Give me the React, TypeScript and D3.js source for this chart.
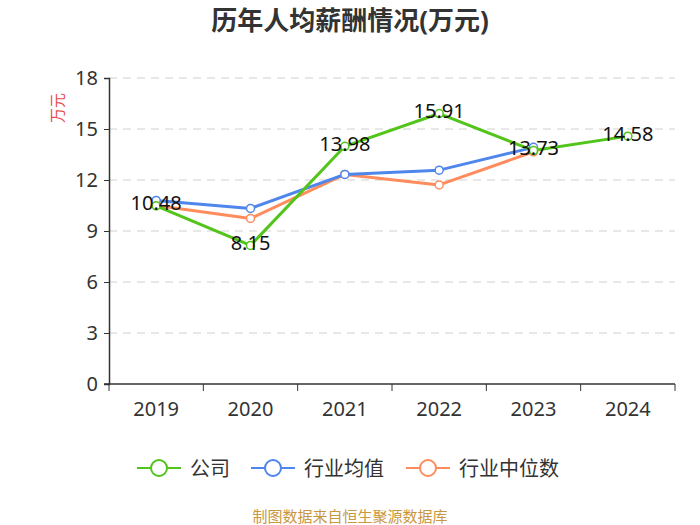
import React, { useRef, useEffect } from "react"
import * as d3 from "d3"

const years = ["2019", "2020", "2021", "2022", "2023", "2024"]
const companyValues = [10.48, 8.15, 13.98, 15.91, 13.73, 14.58]
const industryMean: (number | null)[] = [10.8, 10.33, 12.33, 12.58, 13.92, null]
const industryMedian: (number | null)[] = [10.5, 9.74, 12.33, 11.71, 13.66, null]
const yTicks = [0, 3, 6, 9, 12, 15, 18]
const seriesNames = ["公司", "行业均值", "行业中位数"]
const seriesColors = ["#52c41a", "#4f86ec", "#ff8c5c"]

const FONT = '"Noto Sans", "Noto Sans CJK SC", sans-serif'

export default function App() {
    const svgRef = useRef<SVGSVGElement>(null)

    useEffect(() => {
        if (!svgRef.current) return
        const width = 700
        const height = 525
        const margin = { top: 78, right: 25, bottom: 141, left: 109 }
        const innerWidth = width - margin.left - margin.right
        const innerHeight = height - margin.top - margin.bottom

        const svg = d3.select(svgRef.current)
        svg.selectAll("*").remove()
        svg.attr("width", width).attr("height", height).style("font-family", FONT)

        svg.append("rect").attr("width", width).attr("height", height).attr("fill", "#fff")

        // Title
        svg.append("text")
            .attr("x", width / 2)
            .attr("y", 20)
            .attr("text-anchor", "middle")
            .attr("dominant-baseline", "central")
            .attr("font-size", 26)
            .attr("font-weight", "bold")
            .attr("fill", "#333")
            .text("历年人均薪酬情况(万元)")

        const g = svg.append("g").attr("transform", `translate(${margin.left},${margin.top})`)

        const x = d3.scaleBand().domain(years).range([0, innerWidth])
        const y = d3.scaleLinear().domain([0, 18]).range([innerHeight, 0])

        // Grid lines
        g.append("g")
            .selectAll("line")
            .data(yTicks.filter(t => t > 0))
            .join("line")
            .attr("x1", 0)
            .attr("x2", innerWidth)
            .attr("y1", d => y(d))
            .attr("y2", d => y(d))
            .attr("stroke", "#d0d0d0")
            .attr("stroke-dasharray", "8,6")

        // Y axis
        const yAxis = g.append("g")
            .call(d3.axisLeft(y).tickValues(yTicks).tickSize(5).tickPadding(6))
        yAxis.select(".domain").attr("stroke", "#333").attr("stroke-width", 1.5)
        yAxis.selectAll(".tick line").attr("stroke", "#333")
        yAxis.selectAll("text").attr("font-size", 20).attr("fill", "#333").attr("font-family", FONT)

        // X axis with boundary ticks
        const xAxisG = g.append("g").attr("transform", `translate(0,${innerHeight})`)
        xAxisG.append("line")
            .attr("x1", -5)
            .attr("x2", innerWidth)
            .attr("stroke", "#333")
            .attr("stroke-width", 1.5)
        const bounds = [...years.map(d => x(d) as number), innerWidth]
        xAxisG.selectAll("line.tk")
            .data(bounds)
            .join("line")
            .attr("class", "tk")
            .attr("x1", d => d)
            .attr("x2", d => d)
            .attr("y1", 0)
            .attr("y2", 7)
            .attr("stroke", "#333")
        xAxisG.selectAll("text")
            .data(years)
            .join("text")
            .attr("x", d => (x(d) as number) + x.bandwidth() / 2)
            .attr("y", 24)
            .attr("text-anchor", "middle")
            .attr("dominant-baseline", "central")
            .attr("font-size", 20)
            .attr("fill", "#333")
            .text(d => d)

        // Y axis name
        svg.append("text")
            .attr("transform", `translate(57,108) rotate(-90)`)
            .attr("text-anchor", "middle")
            .attr("dominant-baseline", "central")
            .attr("font-size", 15)
            .attr("fill", "#e84a4a")
            .text("万元")

        const cx = (i: number) => (x(years[i]) as number) + x.bandwidth() / 2
        const allSeries = [companyValues, industryMean, industryMedian]

        // Draw back-to-front: median, mean, company
        ;[2, 1, 0].forEach(si => {
            const vals = allSeries[si]
            const pts = vals.map((v, i) => ({ i, v })).filter(p => p.v != null) as { i: number; v: number }[]
            const line = d3.line<{ i: number; v: number }>().x(p => cx(p.i)).y(p => y(p.v))
            g.append("path")
                .datum(pts)
                .attr("fill", "none")
                .attr("stroke", seriesColors[si])
                .attr("stroke-width", 3)
                .attr("stroke-linejoin", "round")
                .attr("d", line)
            g.append("g")
                .selectAll("circle")
                .data(pts)
                .join("circle")
                .attr("cx", p => cx(p.i))
                .attr("cy", p => y(p.v))
                .attr("r", 4)
                .attr("fill", "#fff")
                .attr("stroke", seriesColors[si])
                .attr("stroke-width", 1.5)
        })

        // Data labels for company
        g.append("g")
            .selectAll("text")
            .data(companyValues)
            .join("text")
            .attr("x", (_, i) => cx(i))
            .attr("y", d => y(d) - 3)
            .attr("text-anchor", "middle")
            .attr("dominant-baseline", "central")
            .attr("font-size", 20)
            .attr("fill", "#111")
            .text(d => d.toFixed(2))

        // Legend
        const legendX = [137, 251, 406]
        const legendY = 468
        seriesNames.forEach((name, i) => {
            const lg = svg.append("g").attr("transform", `translate(${legendX[i]},${legendY})`)
            lg.append("line")
                .attr("x1", 0)
                .attr("x2", 44)
                .attr("stroke", seriesColors[i])
                .attr("stroke-width", 2)
            lg.append("circle")
                .attr("cx", 22)
                .attr("r", 8)
                .attr("fill", "#fff")
                .attr("stroke", seriesColors[i])
                .attr("stroke-width", 2)
            lg.append("text")
                .attr("x", 53)
                .attr("dominant-baseline", "central")
                .attr("font-size", 20)
                .attr("fill", "#333")
                .text(name)
        })

        // Footer
        svg.append("text")
            .attr("x", width / 2)
            .attr("y", 516)
            .attr("text-anchor", "middle")
            .attr("dominant-baseline", "central")
            .attr("font-size", 15)
            .attr("fill", "#c9973f")
            .text("制图数据来自恒生聚源数据库")
    }, [])

    return (
        <div style={{ position: "absolute", left: 0, top: 0, width: 700, height: 525, overflow: "hidden" }}>
            <svg ref={svgRef} style={{ display: "block" }} />
        </div>
    )
}
